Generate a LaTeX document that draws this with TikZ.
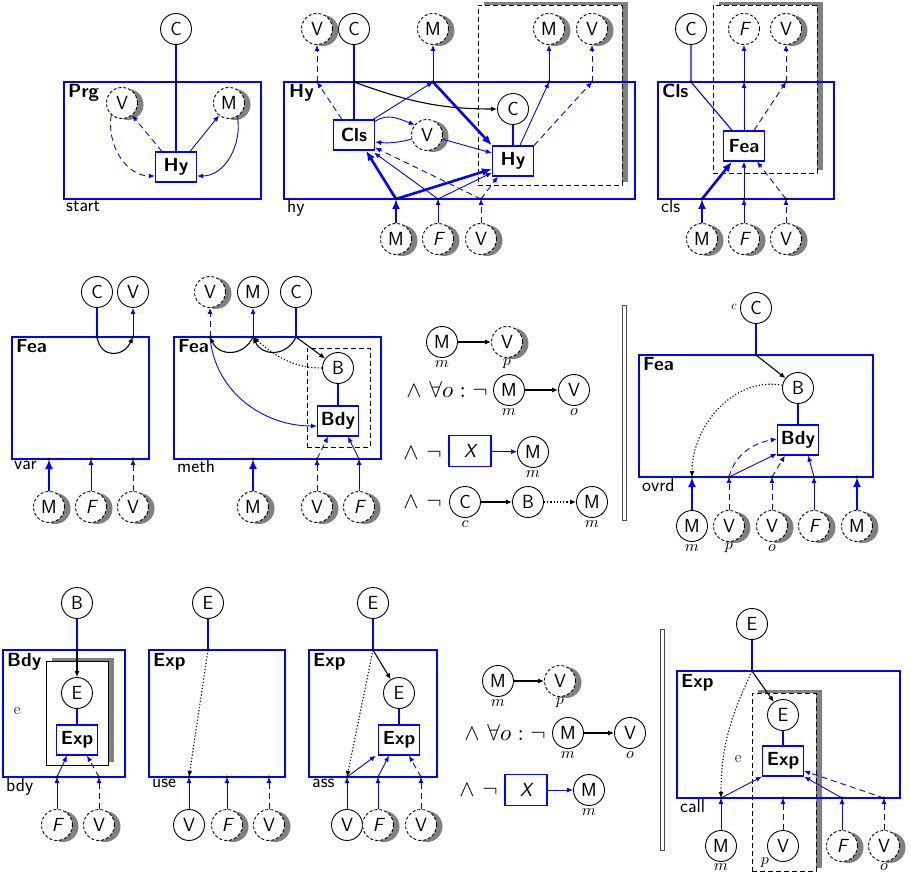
\documentclass[tikz,border=0pt]{standalone}
\usepackage{graphicx}
\usetikzlibrary{arrows.meta,shadows}
\newcommand{\myf}{\fontsize{19}{22}\selectfont\sffamily}
\newcommand{\mth}[2][1.6]{\scalebox{#1}{$#2$}}
\tikzset{
  cir/.style={circle, draw, line width=0.9pt, minimum size=31pt, inner sep=0pt, font=\myf, fill=white},
  dcir/.style={cir, dash pattern=on 3pt off 2pt},
  scir/.style={dcir, drop shadow={shadow xshift=6pt, shadow yshift=-1.5pt, opacity=1, fill=gray}},
  bbox/.style={draw=blue, line width=1.4pt, inner sep=0pt},
  ibox/.style={draw=blue, line width=1.3pt, fill=white, minimum width=41pt, minimum height=30pt, inner sep=0pt, font=\myf\bfseries},
  xbox/.style={ibox, minimum width=42pt, minimum height=31pt, font=\myf\itshape},
  dbox/.style={draw=black, dash pattern=on 5pt off 3pt, line width=0.9pt, inner sep=0pt},
  sdbox/.style={dbox, fill=white, drop shadow={shadow xshift=6pt, shadow yshift=3pt, opacity=1, fill=gray}},
  sbox/.style={draw=black, line width=0.9pt, inner sep=0pt, fill=white, drop shadow={shadow xshift=6pt, shadow yshift=3pt, opacity=1, fill=gray}},
  ttl/.style={font=\myf\bfseries, anchor=base west, inner sep=0pt},
  nam/.style={font=\myf, anchor=base west, inner sep=0pt},
  sub/.style={inner sep=0pt},
  frm/.style={anchor=east, inner sep=0pt},
  elab/.style={font=\fontsize{16}{17}\selectfont, inner sep=0pt},
  barbox/.style={draw=black!70, line width=0.7pt, minimum width=4pt, inner sep=0pt},
  ar/.style={draw=blue, line width=0.9pt, -{Latex[length=6pt,width=5pt]}},
  dar/.style={ar, dash pattern=on 6pt off 4pt},
  tar/.style={draw=blue, line width=2.6pt, -{Latex[length=10pt,width=8pt]}},
  bl/.style={draw=blue, line width=1.1pt},
  kar/.style={draw=black, line width=1.1pt, -{Latex[length=6pt,width=5pt]}},
  kdot/.style={kar, dash pattern=on 1.2pt off 2pt},
}
\begin{document}
\begin{tikzpicture}[x=1pt,y=-1pt]
\useasboundingbox (0,0) rectangle (911,877);
% ================= start
\node[bbox, minimum width=197pt, minimum height=117pt] (prg) at (162.5,140.5) {};
\node[ttl] (prgt) at (68,98) {Prg};
\node[nam] (prgn) at (66,212) {start};
\node[cir] (C1) at (176,29) {C};
\node[scir] (V1) at (122,103) {V};
\node[scir] (M1) at (229,103) {M};
\node[ibox] (Hy1) at (176,167) {Hy};
\coordinate (a1) at (176,82);
\draw[bl] (C1) -- (Hy1);
\draw[dar] ([xshift=7pt]Hy1.north west) -- (V1);
\draw[ar] ([xshift=-7pt]Hy1.north east) -- (M1);
\draw[dar] (V1.228) to[out=260,in=180] ([yshift=-9pt]Hy1.west);
\draw[ar] (M1.302) to[out=-80,in=0] ([yshift=-9pt]Hy1.east);
% ================= hy
\node[sdbox, minimum width=144pt, minimum height=180pt] (hyd) at (550,95) {};
\node[bbox, minimum width=351pt, minimum height=117pt] (hy) at (459.5,140.5) {};
\node[ttl] (hyt) at (289,98) {Hy};
\node[nam] (hyn) at (287,213) {hy};
\node[scir] (V2a) at (317,29) {V};
\node[cir] (C2a) at (354,29) {C};
\node[scir] (M2a) at (433,29) {M};
\node[scir] (M2b) at (549,29) {M};
\node[scir] (V2b) at (592,29) {V};
\node[cir] (C2b) at (513,109) {C};
\node[ibox] (Cls2) at (354,135) {Cls};
\node[scir] (V2c) at (427,135) {V};
\node[ibox] (Hy2) at (513,161) {Hy};
\node[scir] (M2c) at (396,239) {M};
\node[scir] (F2) at (438,239) {\itshape F};
\node[scir] (V2d) at (481,239) {V};
\coordinate (t1) at (317,82);
\coordinate (t2) at (354,82);
\coordinate (t3) at (433,82);
\coordinate (t4) at (549,82);
\coordinate (t5) at (592,82);
\coordinate (b1) at (396,199);
\coordinate (b2) at (438,199);
\coordinate (b3) at (481,199);
\draw[dar] ([xshift=9pt]Cls2.north west) -- (t1);
\draw[dar] (t1) -- (V2a);
\draw[bl] (C2a) -- (Cls2);
\draw[kar] (t2) to[out=-20,in=180] (C2b);
\draw[ar] ([xshift=-2pt]Cls2.north east) -- (t3);
\draw[ar] (t3) -- (M2a);
\draw[tar] (t3) -- (Hy2.north west);
\draw[bl] (C2b) -- (Hy2);
\draw[ar] ([xshift=7pt]Hy2.north) -- (t4);
\draw[ar] (t4) -- (M2b);
\draw[dar] (Hy2.north east) -- (t5);
\draw[dar] (t5) -- (V2b);
\draw[ar] ([yshift=-2pt]Cls2.north east) to[out=35,in=160] (V2c.140);
\draw[ar] (V2c.195) to[bend left=10] ([yshift=-7pt]Cls2.east);
\draw[ar] (V2c.-15) -- ([yshift=8pt]Hy2.west);
\draw[tar] (M2c) -- (b1);
\draw[ar] (F2) -- (b2);
\draw[dar] (V2d) -- (b3);
\draw[tar] (b1) -- ([xshift=12pt]Cls2.south);
\draw[tar] (b1) -- ([yshift=-8pt]Hy2.west);
\draw[ar] (b2) -- ([xshift=-1pt,yshift=-2pt]Cls2.south east);
\draw[ar] (b2) -- ([yshift=4pt]Hy2.south west);
\draw[dar] (b3) -- ([yshift=3pt]Cls2.south east);
\draw[dar] (b3) -- ([xshift=6pt]Hy2.south west);
% ================= cls
\node[sdbox, minimum width=104pt, minimum height=168pt] (clsd) at (765,89) {};
\node[bbox, minimum width=176pt, minimum height=117pt] (cls) at (746,140.5) {};
\node[ttl] (clst) at (662,98) {Cls};
\node[nam] (clsn) at (661,213) {cls};
\node[cir] (C3) at (691,29) {C};
\node[dcir] (F3) at (744,29) {\itshape F};
\node[scir] (V3) at (786,29) {V};
\node[ibox] (Fea3) at (744,146) {Fea};
\node[scir] (M3) at (702,239) {M};
\node[scir] (F3b) at (744,239) {\itshape F};
\node[scir] (V3b) at (786,239) {V};
\coordinate (c1) at (691,82);
\coordinate (c2) at (744,82);
\coordinate (c3) at (786,82);
\coordinate (d1) at (702,199);
\coordinate (d2) at (744,199);
\coordinate (d3) at (786,199);
\draw[bl] (C3) -- (c1) -- ([xshift=-12pt]Fea3.north);
\draw[ar] (Fea3.north) -- (c2);
\draw[ar] (c2) -- (F3);
\draw[dar] ([xshift=10pt]Fea3.north) -- (c3);
\draw[dar] (c3) -- (V3);
\draw[tar] (M3) -- (d1);
\draw[tar] (d1) -- ([xshift=-12pt]Fea3.south);
\draw[ar] (F3b) -- (d2);
\draw[ar] (d2) -- (Fea3.south);
\draw[dar] (V3b) -- (d3);
\draw[dar] (d3) -- ([xshift=13pt]Fea3.south);
% ================= var
\node[bbox, minimum width=137pt, minimum height=122pt] (var) at (80.5,398) {};
\node[ttl] (vart) at (16,353) {Fea};
\node[nam] (varn) at (14,469) {var};
\node[cir] (C4) at (97,292) {C};
\node[cir] (V4) at (133,292) {V};
\node[scir] (M4) at (49,507) {M};
\node[scir] (F4) at (91,507) {\itshape F};
\node[scir] (V4b) at (133,507) {V};
\coordinate (e1) at (97,337);
\coordinate (e2) at (133,337);
\coordinate (f1) at (49,459);
\coordinate (f2) at (91,459);
\coordinate (f3) at (133,459);
\draw[bl] (C4) -- (e1);
\draw[kar] (e1) to[out=-80,in=-115,looseness=1.6] (e2);
\draw[ar] (e2) -- (V4);
\draw[tar] (M4) -- (f1);
\draw[ar] (F4) -- (f2);
\draw[dar] (V4b) -- (f3);
% ================= meth
\node[dbox, minimum width=63pt, minimum height=99pt] (methd) at (338.5,397.5) {};
\node[bbox, minimum width=207pt, minimum height=122pt] (meth) at (277.5,398) {};
\node[ttl] (metht) at (178,353) {Fea};
\node[nam] (methn) at (177,472) {meth};
\node[scir] (V5) at (210,292) {V};
\node[cir] (M5) at (253,292) {M};
\node[cir] (C5) at (296,292) {C};
\node[cir] (B5) at (338,368) {B};
\node[ibox] (Bdy5) at (338,421) {Bdy};
\node[scir] (M5b) at (253,507) {M};
\node[scir] (V5b) at (317,507) {V};
\node[scir] (F5b) at (359,507) {\itshape F};
\coordinate (g1) at (210,337);
\coordinate (g2) at (253,337);
\coordinate (g3) at (296,337);
\coordinate (h1) at (253,459);
\coordinate (h2) at (317,459);
\coordinate (h3) at (359,459);
\draw[bl] (C5) -- (g3);
\draw[kar] (g3) to[out=-115,in=-65,looseness=1.3] (g2);
\draw[kar] (g2) to[out=-115,in=-65,looseness=1.3] (g1);
\draw[ar] (g2) -- (M5);
\draw[dar] (g1) -- (V5);
\draw[kar] (g3) -- (B5);
\draw[kdot] (B5.west) to[out=180,in=-40] (g2);
\draw[ar] (g1) to[out=-85,in=180] ([yshift=-5pt]Bdy5.west);
\draw[bl] (B5) -- (Bdy5);
\draw[tar] (M5b) -- (h1);
\draw[dar] (V5b) -- (h2);
\draw[dar] (h2) -- ([xshift=-10pt]Bdy5.south);
\draw[ar] (F5b) -- (h3);
\draw[ar] (h3) -- ([xshift=10pt]Bdy5.south);
% ================= formula 1
\node[cir] (fM1) at (442,342) {M};
\node[scir] (fV1) at (507,342) {V};
\draw[kar] (fM1) -- (fV1);
\node[sub] (fm1) at (442,364) {\mth{m}};
\node[sub] (fp1) at (507,364) {\mth{p}};
\node[frm] (ft2) at (488,390) {\mth[2.3]{\wedge\ \forall o : \neg}};
\node[cir] (fM2) at (509,390) {M};
\node[cir] (fV2) at (574,390) {V};
\draw[kar] (fM2) -- (fV2);
\node[sub] (fm2) at (509,412) {\mth{m}};
\node[sub] (fo2) at (574,412) {\mth{o}};
\node[frm] (ft3) at (442,453) {\mth[2.3]{\wedge\ \neg}};
\node[xbox] (fX) at (470,451) {X};
\node[cir] (fM3) at (533,452) {M};
\draw[ar] (fX) -- (fM3);
\node[sub] (fm3) at (533,474) {\mth{m}};
\node[frm] (ft4) at (442,502) {\mth[2.3]{\wedge\ \neg}};
\node[cir] (fC) at (465,502) {C};
\node[cir] (fB) at (528,502) {B};
\node[cir] (fM4) at (592,502) {M};
\draw[kar] (fC) -- (fB);
\draw[kdot] (fB) -- (fM4);
\node[sub] (fc4) at (465,524) {\mth{c}};
\node[sub] (fm4) at (592,524) {\mth{m}};
\node[barbox, minimum height=215pt] (bar1) at (624,412.5) {};
% ================= ovrd
\node[bbox, minimum width=234pt, minimum height=122pt] (ovrd) at (756,416) {};
\node[ttl] (ovrdt) at (643,371) {Fea};
\node[nam] (ovrdn) at (642,491) {ovrd};
\node[cir] (C6) at (756,308) {C};
\node[sub] (c6l) at (734,307) {\mth[1.2]{c}};
\node[cir] (B6) at (798,388) {B};
\node[ibox] (Bdy6) at (798,440) {Bdy};
\node[cir] (M6) at (692,526) {M};
\node[scir] (V6) at (729,526) {V};
\node[scir] (V6b) at (772,526) {V};
\node[scir] (F6) at (814,526) {\itshape F};
\node[scir] (M6b) at (857,526) {M};
\node[sub] (m6l) at (692,548) {\mth{m}};
\node[sub] (p6l) at (729,548) {\mth{p}};
\node[sub] (o6l) at (772,548) {\mth{o}};
\coordinate (k0) at (756,355);
\coordinate (k1) at (692,477);
\coordinate (k2) at (729,477);
\coordinate (k3) at (772,477);
\coordinate (k4) at (814,477);
\coordinate (k5) at (857,477);
\draw[bl] (C6) -- (k0);
\draw[kar] (k0) -- (B6);
\draw[bl] (B6) -- (Bdy6);
\draw[kdot] (B6.170) to[out=170,in=90] (k1);
\draw[tar] (M6) -- (k1);
\draw[dar] (V6) -- (k2);
\draw[dar] (V6b) -- (k3);
\draw[ar] (F6) -- (k4);
\draw[tar] (M6b) -- (k5);
\draw[dar] (k2) to[out=75,in=190] ([yshift=1pt]Bdy6.west);
\draw[ar] (k2) -- ([yshift=2pt]Bdy6.south west);
\draw[dar] (k3) -- ([xshift=8pt]Bdy6.south west);
\draw[ar] (k4) -- ([xshift=-11pt]Bdy6.south east);
% ================= bdy
\node[bbox, minimum width=122pt, minimum height=127pt] (bdy) at (64,713.5) {};
\node[sbox, minimum width=62pt, minimum height=104pt] (bdyi) at (77,713) {};
\node[ttl] (bdyt) at (7,666) {Bdy};
\node[nam] (bdyn) at (6,791) {bdy};
\node[elab] (e7l) at (17,711) {e};
\node[cir] (B7) at (77,603) {B};
\node[cir] (E7) at (77,693) {E};
\node[ibox] (Exp7) at (77,740) {Exp};
\node[scir] (F7) at (57,825) {\itshape F};
\node[scir] (V7) at (99,825) {V};
\coordinate (q0) at (77,650);
\coordinate (q1) at (57,777);
\coordinate (q2) at (99,777);
\draw[bl] (B7) -- (q0);
\draw[kar] (q0) -- (E7);
\draw[bl] (E7) -- (Exp7);
\draw[ar] (F7) -- (q1);
\draw[ar] (q1) -- ([xshift=-10pt]Exp7.south);
\draw[dar] (V7) -- (q2);
\draw[dar] (q2) -- ([xshift=10pt]Exp7.south);
% ================= use
\node[bbox, minimum width=136pt, minimum height=127pt] (use) at (217,713.5) {};
\node[ttl] (uset) at (153,666) {Exp};
\node[nam] (usen) at (152,787) {use};
\node[cir] (E8) at (208,603) {E};
\node[cir] (V8) at (189,825) {V};
\node[scir] (F8) at (227,825) {\itshape F};
\node[scir] (V8b) at (269,825) {V};
\coordinate (u0) at (208,650);
\coordinate (u1) at (189,777);
\coordinate (u2) at (227,777);
\coordinate (u3) at (269,777);
\draw[bl] (E8) -- (u0);
\draw[kdot] (u0) -- (u1);
\draw[ar] (V8) -- (u1);
\draw[ar] (F8) -- (u2);
\draw[dar] (V8b) -- (u3);
% ================= ass
\node[bbox, minimum width=128pt, minimum height=127pt] (ass) at (373,713.5) {};
\node[ttl] (asst) at (313,666) {Exp};
\node[nam] (assn) at (312,787) {ass};
\node[cir] (E9) at (373,603) {E};
\node[cir] (E9b) at (399,693) {E};
\node[ibox] (Exp9) at (399,740) {Exp};
\node[cir] (V9) at (347,825) {V};
\node[scir] (F9) at (378,825) {\itshape F};
\node[scir] (V9b) at (421,825) {V};
\coordinate (w0) at (373,650);
\coordinate (w1) at (347,777);
\coordinate (w2) at (378,777);
\coordinate (w3) at (421,777);
\draw[bl] (E9) -- (w0);
\draw[kar] (w0) -- (E9b);
\draw[kdot] (w0) -- (w1);
\draw[bl] (E9b) -- (Exp9);
\draw[ar] (V9) -- (w1);
\draw[ar] (w1) -- ([xshift=-2pt]Exp9.south west);
\draw[ar] (F9) -- (w2);
\draw[ar] (w2) -- ([xshift=-10pt]Exp9.south);
\draw[dar] (V9b) -- (w3);
\draw[dar] (w3) -- ([xshift=10pt]Exp9.south);
% ================= formula 2
\node[cir] (gM1) at (498,681) {M};
\node[scir] (gV1) at (560,681) {V};
\draw[kar] (gM1) -- (gV1);
\node[sub] (gm1) at (498,703) {\mth{m}};
\node[sub] (gp1) at (560,703) {\mth{p}};
\node[frm] (gt2) at (546,733) {\mth[2.3]{\wedge\ \forall o : \neg}};
\node[cir] (gM2) at (568,733) {M};
\node[cir] (gV2) at (630,733) {V};
\draw[kar] (gM2) -- (gV2);
\node[sub] (gm2) at (568,755) {\mth{m}};
\node[sub] (go2) at (630,755) {\mth{o}};
\node[frm] (gt3) at (498,790) {\mth[2.3]{\wedge\ \neg}};
\node[xbox] (gX) at (526,790) {X};
\node[cir] (gM3) at (589,790) {M};
\draw[ar] (gX) -- (gM3);
\node[sub] (gm3) at (589,812) {\mth{m}};
\node[barbox, minimum height=221pt] (bar2) at (662.5,739.5) {};
% ================= call
\node[sdbox, minimum width=64pt, minimum height=178pt] (calld) at (784,782) {};
\node[bbox, minimum width=223pt, minimum height=127pt] (call) at (788.5,734.5) {};
\node[ttl] (callt) at (681,687) {Exp};
\node[nam] (calln) at (680,812) {call};
\node[elab] (e10l) at (738,759) {e};
\node[cir] (E10) at (752,624) {E};
\node[cir] (E10b) at (783,715) {E};
\node[ibox] (Exp10) at (783,761) {Exp};
\node[cir] (M10) at (721,846) {M};
\node[cir] (V10) at (783,846) {V};
\node[scir] (F10) at (842,846) {\itshape F};
\node[scir] (V10b) at (884,846) {V};
\node[sub] (m10l) at (721,867) {\mth{m}};
\node[sub] (p10l) at (765,863) {\mth{p}};
\node[sub] (o10l) at (884,867) {\mth{o}};
\coordinate (z0) at (752,671);
\coordinate (z1) at (721,798);
\coordinate (z2) at (783,798);
\coordinate (z3) at (842,798);
\coordinate (z4) at (884,798);
\draw[bl] (E10) -- (z0);
\draw[kar] (z0) -- (E10b);
\draw[bl] (E10b) -- (Exp10);
\draw[kdot] (z0) to[out=-115,in=90] (z1);
\draw[ar] (M10) -- (z1);
\draw[ar] (z1) -- (Exp10.south west);
\draw[dar] (V10) -- (z2);
\draw[ar] (F10) -- (z3);
\draw[ar] (z3) -- (Exp10.south east);
\draw[dar] (V10b) -- (z4);
\draw[dar] (z4) -- ([yshift=-10pt]Exp10.east);
% ================= dots
\foreach \p in {a1,t1,t2,t3,t4,t5,b1,b2,b3,c1,c2,c3,d1,d2,d3,e1,e2,f1,f2,f3,g1,g2,g3,h1,h2,h3,k0,k1,k2,k3,k4,k5,q0,q1,q2,u0,u1,u2,u3,w0,w1,w2,w3,z0,z1,z2,z3,z4}
  \fill (\p) circle (1.7pt);
\end{tikzpicture}
\end{document}
